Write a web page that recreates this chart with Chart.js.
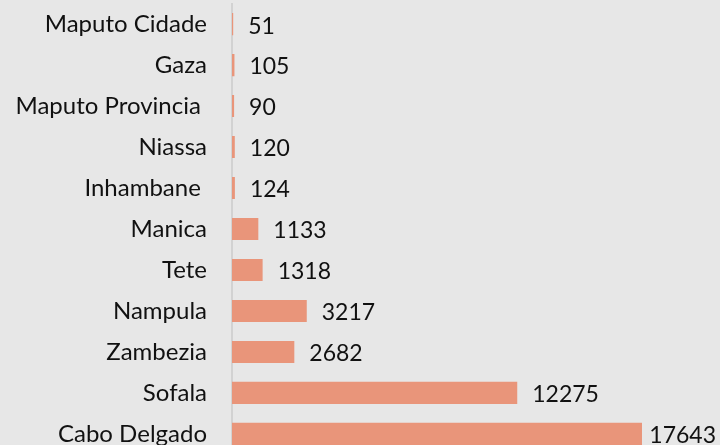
<!DOCTYPE html>
<html>
<head>
<meta charset="utf-8">
<script src="https://cdn.jsdelivr.net/npm/chart.js@4"></script>
<style>
  html, body { margin: 0; padding: 0; background: #e7e7e7; overflow: hidden; }
  canvas { display: block; }
</style>
</head>
<body>
<canvas id="chart" width="720" height="458"></canvas>
<script>
'use strict';

const provinces = [
  'Maputo Cidade',
  'Gaza',
  'Maputo Provincia ',
  'Niassa',
  'Inhambane ',
  'Manica',
  'Tete',
  'Nampula',
  'Zambezia',
  'Sofala',
  'Cabo Delgado',
];
const cases = [51, 105, 90, 120, 124, 1133, 1318, 3217, 2682, 12275, 17643];

const fontFamily = 'Lato, "Open Sans", sans-serif';

// draws the value after each bar, pulled in if it would run off the edge
const valueLabels = {
  id: 'valueLabels',
  afterDatasetsDraw(chart) {
    const ctx = chart.ctx;
    const meta = chart.getDatasetMeta(0);
    ctx.save();
    ctx.font = `23px ${fontFamily}`;
    ctx.fillStyle = '#111';
    ctx.textBaseline = 'middle';
    ctx.textAlign = 'left';
    meta.data.forEach((bar, i) => {
      const text = String(cases[i]);
      const w = ctx.measureText(text).width;
      const x = Math.min(bar.x + 15, chart.width - w - 4);
      ctx.fillText(text, x, bar.y + 2);
    });
    ctx.restore();
  },
};

const ctx = document.getElementById('chart').getContext('2d');

new Chart(ctx, {
  type: 'bar',
  data: {
    labels: provinces,
    datasets: [
      {
        data: cases,
        backgroundColor: '#e9957a',
        borderWidth: 0,
        categoryPercentage: 1,
        barPercentage: 0.54,
      },
    ],
  },
  options: {
    indexAxis: 'y',
    responsive: false,
    animation: false,
    layout: { padding: 0 },
    scales: {
      x: {
        display: false,
        min: 0,
        max: 21000,
      },
      y: {
        grid: { display: false, drawTicks: true, tickLength: 25 },
        border: { color: '#d2d2d2', width: 2 },
        ticks: {
          color: '#111',
          padding: 0,
          font: { family: fontFamily, size: 24, lineHeight: 0.3 },
        },
        afterFit(scale) {
          scale.width = 232;
        },
      },
    },
    plugins: {
      legend: { display: false },
      tooltip: { enabled: false },
    },
  },
  plugins: [valueLabels],
});
</script>
</body>
</html>
